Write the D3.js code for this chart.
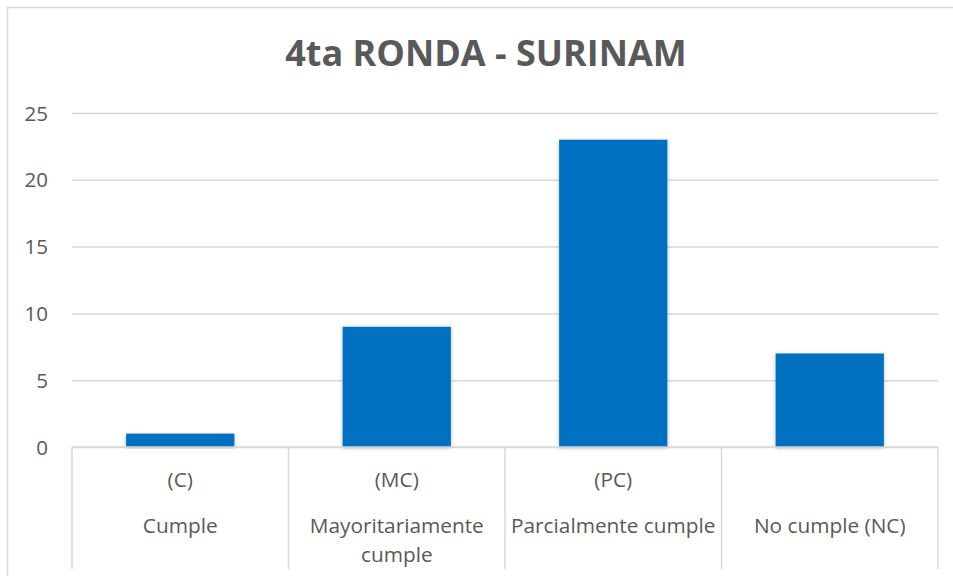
<!DOCTYPE html>
<html><head><meta charset="utf-8">
<script src="https://cdn.jsdelivr.net/npm/d3@7/dist/d3.min.js"></script>
<style>html,body{margin:0;padding:0;background:#fff;}svg{display:block;}</style>
</head><body>
<svg id="chart" width="953" height="576"></svg>
<script>
const title = "4ta RONDA - SURINAM";
const categories = ["C", "MC", "PC", "NC"];
const codeLabels = ["(C)", "(MC)", "(PC)", ""];
const nameLabels = [["Cumple"], ["Mayoritariamente", "cumple"], ["Parcialmente cumple"], ["No cumple (NC)"]];
const values = [1, 9, 23, 7];
const yTicks = [0, 5, 10, 15, 20, 25];

(function () {
const svg = d3.select("#chart");
const font = "'Open Sans', 'Noto Sans', sans-serif";
const textColor = "#595959";
const gridColor = "#d9d9d9";

const defs = svg.append("defs");
const f = defs.append("filter").attr("id", "sh").attr("x", "-10%").attr("y", "-10%").attr("width", "120%").attr("height", "120%");
f.append("feDropShadow").attr("dx", 0).attr("dy", 1).attr("stdDeviation", 2).attr("flood-color", "#000").attr("flood-opacity", 0.25);

svg.append("rect").attr("x", 7.5).attr("y", 7.5).attr("width", 1000).attr("height", 600)
  .attr("fill", "#fff").attr("stroke", gridColor).attr("stroke-width", 1.5);

const pLeft = 72, pRight = 938, pTop = 113, pBottom = 447;
const x = d3.scaleBand().domain(categories).range([pLeft, pRight]).paddingInner(0.5).paddingOuter(0.25);
const xOuter = d3.scaleBand().domain(categories).range([pLeft, pRight]);
const y = d3.scaleLinear().domain([0, 25]).range([pBottom, pTop]);

const yAxis = d3.axisLeft(y).tickValues(yTicks).tickSize(-(pRight - pLeft)).tickPadding(24).tickFormat(d3.format("d"));
const gy = svg.append("g").attr("transform", `translate(${pLeft},0)`).call(yAxis);
gy.select(".domain").remove();
gy.selectAll(".tick line").attr("stroke", gridColor).attr("stroke-width", 1.5);
gy.selectAll(".tick text").attr("fill", textColor).attr("font-family", font).attr("font-size", 20.5)
  .attr("x", 48 - pLeft).attr("dy", "0.35em");

svg.append("g").selectAll("rect").data(values).join("rect")
  .attr("x", (d, i) => x(categories[i]))
  .attr("width", x.bandwidth())
  .attr("y", d => y(d))
  .attr("height", d => y(0) - y(d))
  .attr("fill", "#0070c0")
  .attr("filter", "url(#sh)");

const seps = categories.map(c => xOuter(c)).concat([pRight]);
svg.append("g").selectAll("line").data(seps).join("line")
  .attr("x1", d => d).attr("x2", d => d).attr("y1", pBottom).attr("y2", 569)
  .attr("stroke", gridColor).attr("stroke-width", 1.5);
svg.append("line").attr("x1", pLeft).attr("x2", pRight).attr("y1", pBottom).attr("y2", pBottom)
  .attr("stroke", gridColor).attr("stroke-width", 1.5);

const labG = svg.append("g").attr("font-family", font).attr("font-size", 20.8).attr("fill", textColor).attr("text-anchor", "middle");
categories.forEach((c, i) => {
  const cx = xOuter(c) + xOuter.bandwidth() / 2;
  labG.append("text").attr("x", cx).attr("y", 487).text(codeLabels[i]);
  nameLabels[i].forEach((line, j) => {
    labG.append("text").attr("x", cx).attr("y", 533 + j * 29).text(line);
  });
});

svg.append("text").attr("x", 486).attr("y", 66).attr("text-anchor", "middle")
  .attr("font-family", font).attr("font-weight", "bold").attr("font-size", 36).attr("fill", textColor)
  .text(title);
})();
</script>
</body></html>
